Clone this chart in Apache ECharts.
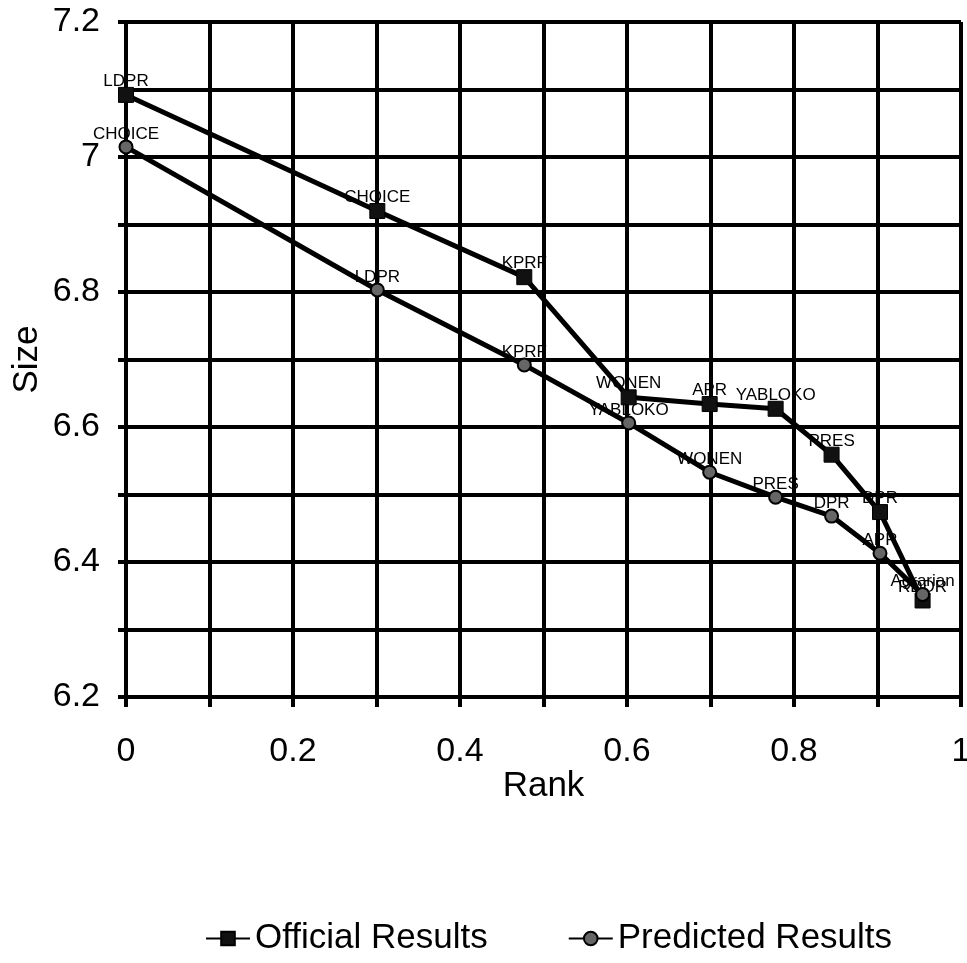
<!DOCTYPE html>
<html>
<head>
<meta charset="utf-8">
<script src="https://cdn.jsdelivr.net/npm/echarts@6/dist/echarts.min.js"></script>
<style>
html,body{margin:0;padding:0;background:#fff;}
#chart{width:967px;height:963px;}
</style>
</head>
<body>
<div id="chart"></div>
<script>
// Rank (x) values
const officialRank = [0, 0.301, 0.477, 0.602, 0.699, 0.778, 0.845, 0.903, 0.954];
const officialSize = [7.092, 6.920, 6.822, 6.644, 6.634, 6.627, 6.559, 6.474, 6.343];
const officialNames = ['LDPR', 'CHOICE', 'KPRF', 'WONEN', 'APR', 'YABLOKO', 'PRES', 'DPR', 'RDDR'];

const predictedRank = [0, 0.301, 0.477, 0.602, 0.699, 0.778, 0.845, 0.903, 0.954];
const predictedSize = [7.015, 6.803, 6.692, 6.606, 6.533, 6.496, 6.468, 6.413, 6.352];
const predictedNames = ['CHOICE', 'LDPR', 'KPRF', 'YABLOKO', 'WONEN', 'PRES', 'DPR', 'APR', 'Agrarian'];

const seriesNames = ['Official Results', 'Predicted Results'];
const xAxisName = 'Rank';
const yAxisName = 'Size';

const FONT = '"Liberation Sans", Arial, Helvetica, sans-serif';

function build(xs, ys, names) {
  return xs.map((x, i) => ({ value: [x, ys[i]], name: names[i] }));
}

const chart = echarts.init(document.getElementById('chart'), null, { renderer: 'canvas' });

const labelStyle = {
  show: true,
  position: 'top',
  distance: -3,
  formatter: p => p.name,
  color: '#000',
  fontFamily: FONT,
  fontSize: 17
};

const tickFmt = v => (Math.round(v * 10) % 2 === 0 ? String(Number(v.toFixed(1))) : '');

chart.setOption({
  animation: false,
  backgroundColor: '#fff',
  grid: { left: 126, right: 6, top: 22, bottom: 266, containLabel: false, outerBoundsMode: 'none' },
  xAxis: {
    type: 'value',
    min: 0, max: 1, interval: 0.1,
    name: xAxisName,
    nameLocation: 'middle',
    nameGap: 72,
    nameMoveOverlap: false,
    nameTextStyle: { color: '#000', fontFamily: FONT, fontSize: 35 },
    axisLine: { show: true, lineStyle: { color: '#000', width: 4 } },
    axisTick: { show: true, length: 10, lineStyle: { color: '#000', width: 4 } },
    splitLine: { show: true, lineStyle: { color: '#000', width: 4 } },
    axisLabel: { color: '#000', fontFamily: FONT, fontSize: 34, margin: 38, formatter: tickFmt }
  },
  yAxis: {
    type: 'value',
    min: 6.2, max: 7.2, interval: 0.1,
    name: yAxisName,
    nameLocation: 'middle',
    nameGap: 81,
    nameMoveOverlap: false,
    nameRotate: 90,
    nameTextStyle: { color: '#000', fontFamily: FONT, fontSize: 35 },
    axisLine: { show: true, lineStyle: { color: '#000', width: 4 } },
    axisTick: { show: true, length: 8, lineStyle: { color: '#000', width: 4 } },
    splitLine: { show: true, lineStyle: { color: '#000', width: 4 } },
    axisLabel: { color: '#000', fontFamily: FONT, fontSize: 34, margin: 26, formatter: tickFmt }
  },
  legend: {
    bottom: 2,
    left: 200,
    itemWidth: 44,
    itemHeight: 17,
    itemGap: 80,
    textStyle: { color: '#000', fontFamily: FONT, fontSize: 35 },
    data: seriesNames
  },
  series: [
    {
      name: seriesNames[0],
      type: 'line',
      data: build(officialRank, officialSize, officialNames),
      symbol: 'rect',
      symbolSize: 15,
      itemStyle: { color: '#111', borderColor: '#000', borderWidth: 1 },
      lineStyle: { color: '#000', width: 5 },
      label: labelStyle,
      z: 3
    },
    {
      name: seriesNames[1],
      type: 'line',
      data: build(predictedRank, predictedSize, predictedNames),
      symbol: 'circle',
      symbolSize: 13,
      itemStyle: { color: '#666', borderColor: '#000', borderWidth: 2 },
      lineStyle: { color: '#000', width: 5 },
      label: labelStyle,
      z: 4
    }
  ]
});
</script>
</body>
</html>
